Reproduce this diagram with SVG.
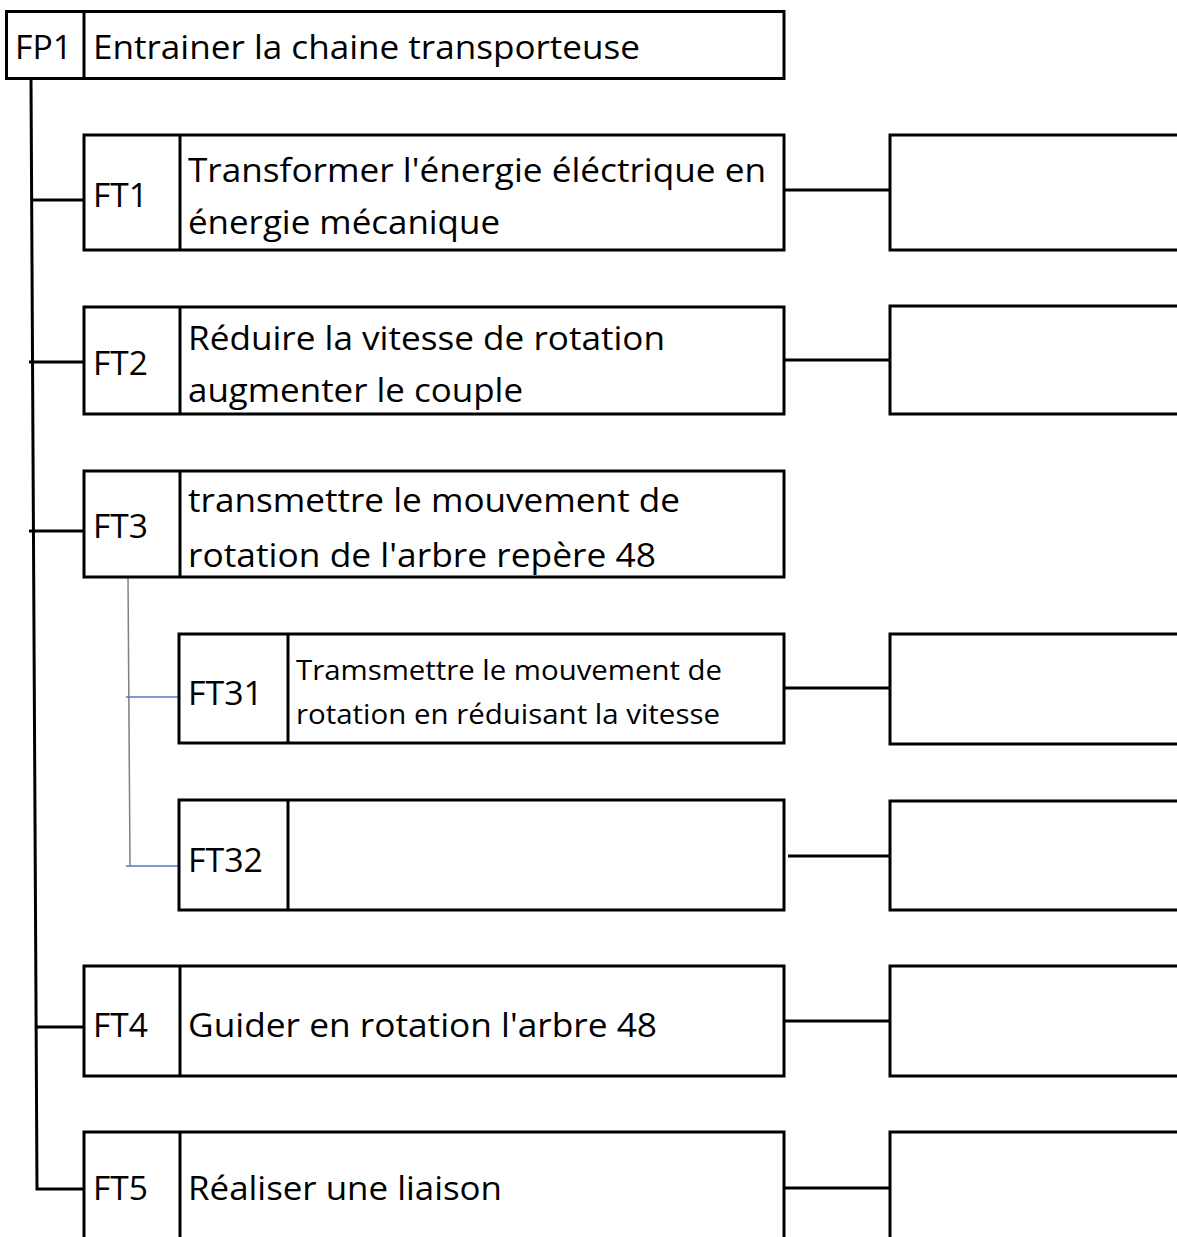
<svg xmlns="http://www.w3.org/2000/svg" width="1177" height="1237" viewBox="0 0 1177 1237">
<style>
.box{fill:#fff;stroke:#000;stroke-width:3}
.div{stroke:#000;stroke-width:3}
.t{font-family:"Open Sans","Noto Sans",sans-serif;font-size:33px;fill:#000}
.s{font-family:"Open Sans","Noto Sans",sans-serif;font-size:27.5px;fill:#000}
.c{stroke:#000;stroke-width:3;fill:none}
.g{stroke:#808080;stroke-width:1.5;fill:none}
.b{stroke:#4a7cc9;stroke-width:1.5;fill:none}
</style>
<rect width="1177" height="1237" fill="#fff"/>
<g id="connectors">
<path class="c" d="M31,79 L37,1189 L84,1189"/>
<line class="c" x1="31" y1="200" x2="84" y2="200"/>
<line class="c" x1="29" y1="362" x2="84" y2="362"/>
<line class="c" x1="29" y1="531" x2="84" y2="531"/>
<line class="c" x1="36" y1="1027" x2="84" y2="1027"/>
<line class="g" x1="128" y1="577" x2="130" y2="866"/>
<line class="b" x1="126" y1="697" x2="179" y2="697"/>
<line class="b" x1="126" y1="866" x2="179" y2="866"/>
<line class="c" x1="784" y1="190" x2="890" y2="190"/>
<line class="c" x1="784" y1="360" x2="890" y2="360"/>
<line class="c" x1="784" y1="688" x2="890" y2="688"/>
<line class="c" x1="788" y1="856" x2="893" y2="856"/>
<line class="c" x1="784" y1="1021" x2="890" y2="1021"/>
<line class="c" x1="784" y1="1188" x2="890" y2="1188"/>
</g>
<g id="FP1">
<rect class="box" x="6.5" y="11.5" width="777.5" height="67"/>
<line class="div" x1="84" y1="11.5" x2="84" y2="78.5"/>
<text class="t" x="15" y="59" textLength="57" lengthAdjust="spacingAndGlyphs">FP1</text>
<text class="t" x="93" y="59" textLength="547" lengthAdjust="spacingAndGlyphs">Entrainer la chaine transporteuse</text>
</g>
<g id="FT1">
<rect class="box" x="84" y="135" width="700" height="115"/>
<line class="div" x1="180" y1="135" x2="180" y2="250"/>
<text class="t" x="93" y="207" textLength="55" lengthAdjust="spacingAndGlyphs">FT1</text>
<text class="t" x="188" y="182" textLength="578" lengthAdjust="spacingAndGlyphs">Transformer l'énergie éléctrique en</text>
<text class="t" x="188" y="234" textLength="312" lengthAdjust="spacingAndGlyphs">énergie mécanique</text>
</g>
<g id="FT2">
<rect class="box" x="84" y="307" width="700" height="107"/>
<line class="div" x1="180" y1="307" x2="180" y2="414"/>
<text class="t" x="93" y="375" textLength="55" lengthAdjust="spacingAndGlyphs">FT2</text>
<text class="t" x="188" y="350" textLength="477" lengthAdjust="spacingAndGlyphs">Réduire la vitesse de rotation</text>
<text class="t" x="188" y="402" textLength="335" lengthAdjust="spacingAndGlyphs">augmenter le couple</text>
</g>
<g id="FT3">
<rect class="box" x="84" y="471" width="700" height="106"/>
<line class="div" x1="180" y1="471" x2="180" y2="577"/>
<text class="t" x="93" y="538" textLength="55" lengthAdjust="spacingAndGlyphs">FT3</text>
<text class="t" x="188" y="512" textLength="492" lengthAdjust="spacingAndGlyphs">transmettre le mouvement de</text>
<text class="t" x="188" y="567" textLength="468" lengthAdjust="spacingAndGlyphs">rotation de l'arbre repère 48</text>
</g>
<g id="FT31">
<rect class="box" x="179" y="634" width="605" height="109"/>
<line class="div" x1="288" y1="634" x2="288" y2="743"/>
<text class="t" x="188" y="705" textLength="75" lengthAdjust="spacingAndGlyphs">FT31</text>
<text class="s" x="296" y="680" textLength="426" lengthAdjust="spacingAndGlyphs">Tramsmettre le mouvement de</text>
<text class="s" x="296" y="724" textLength="424" lengthAdjust="spacingAndGlyphs">rotation en réduisant la vitesse</text>
</g>
<g id="FT32">
<rect class="box" x="179" y="800" width="605" height="110"/>
<line class="div" x1="288" y1="800" x2="288" y2="910"/>
<text class="t" x="188" y="872" textLength="75" lengthAdjust="spacingAndGlyphs">FT32</text>
</g>
<g id="FT4">
<rect class="box" x="84" y="966" width="700" height="110"/>
<line class="div" x1="180" y1="966" x2="180" y2="1076"/>
<text class="t" x="93" y="1037" textLength="55" lengthAdjust="spacingAndGlyphs">FT4</text>
<text class="t" x="188" y="1037" textLength="469" lengthAdjust="spacingAndGlyphs">Guider en rotation l'arbre 48</text>
</g>
<g id="FT5">
<rect class="box" x="84" y="1132" width="700" height="200"/>
<line class="div" x1="180" y1="1132" x2="180" y2="1332"/>
<text class="t" x="93" y="1200" textLength="55" lengthAdjust="spacingAndGlyphs">FT5</text>
<text class="t" x="188" y="1200" textLength="314" lengthAdjust="spacingAndGlyphs">Réaliser une liaison</text>
</g>
<g id="R1"><rect class="box" x="890" y="135" width="400" height="115"/></g>
<g id="R2"><rect class="box" x="890" y="306" width="400" height="108"/></g>
<g id="R31"><rect class="box" x="890" y="634" width="400" height="110"/></g>
<g id="R32"><rect class="box" x="890" y="801" width="400" height="109"/></g>
<g id="R4"><rect class="box" x="890" y="966" width="400" height="110"/></g>
<g id="R5"><rect class="box" x="890" y="1132" width="400" height="200"/></g>
</svg>
